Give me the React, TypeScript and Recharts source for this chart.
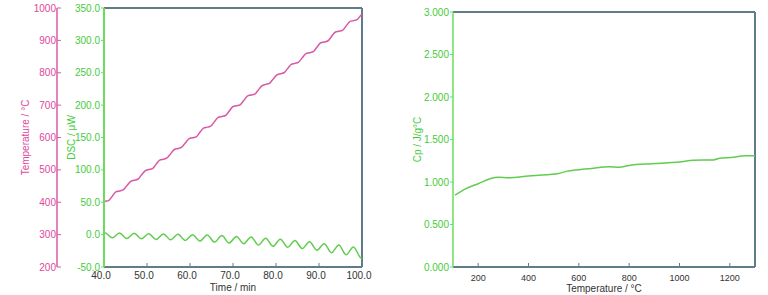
import { LineChart, Line, XAxis, YAxis, ReferenceLine } from "recharts";

const PINK = "#e0479a";
const PINK_LINE = "#d85aa6";
const GREEN = "#3fcc3a";
const GREEN_AXIS = "#6bdc5c";
const GREEN_LINE = "#62cc50";
const FRAME = "#5f7d88";
const TEXT = "#333";
const FONT = "'Liberation Sans', Arial, sans-serif";

// modulated DSC run: time (min) vs sample temperature (°C)
const tempTime = [
  40, 40.2, 41.05, 41.9, 42.75, 43.6, 44.45, 45.3, 46.15, 47.0, 47.85, 48.7, 49.55, 50.4, 51.25, 52.1,
  52.95, 53.8, 54.65, 55.5, 56.35, 57.2, 58.05, 58.9, 59.75, 60.6, 61.45, 62.3, 63.15, 64.0, 64.85,
  65.7, 66.55, 67.4, 68.25, 69.1, 69.95, 70.8, 71.65, 72.5, 73.35, 74.2, 75.05, 75.9, 76.75, 77.6,
  78.45, 79.3, 80.15, 81.0, 81.85, 82.7, 83.55, 84.4, 85.25, 86.1, 86.95, 87.8, 88.65, 89.5, 90.35,
  91.2, 92.05, 92.9, 93.75, 94.6, 95.45, 96.3, 97.15, 98.0, 98.85, 99.7, 100,
];
const temperature = [
  400, 402, 405, 418, 432, 435, 438, 451, 464, 468, 471, 484, 497, 501, 504, 517,
  530, 533, 537, 550, 563, 566, 570, 583, 596, 599, 602, 616, 629, 632, 635,
  649, 662, 665, 668, 681, 695, 698, 701, 714, 728, 731, 734, 747, 760, 764,
  767, 780, 793, 797, 800, 813, 826, 829, 833, 846, 859, 862, 865, 879, 892,
  895, 898, 912, 925, 928, 931, 944, 958, 961, 964, 977, 980,
];

// DSC signal (μW), peaks and troughs of the modulation
const dscTime = [
  40, 40.2, 41.9, 43.6, 45.3, 47.0, 48.7, 50.4, 52.1, 53.8, 55.5, 57.2, 58.9, 60.6, 62.3, 64.0,
  65.7, 67.4, 69.1, 70.8, 72.5, 74.2, 75.9, 77.6, 79.3, 81.0, 82.7, 84.4, 86.1, 87.8, 89.5, 91.2,
  92.9, 94.6, 96.3, 98.0, 99.7, 100,
];
const dsc = [
  1, 3, -5, 2.5, -6, 2, -6.5, 1.5, -7.5, 1, -8, 0.5, -9, 0, -10, -0.5,
  -11.5, -1.5, -13, -3, -14, -3.5, -16, -5.5, -18, -7, -19.5, -9, -21.5, -11, -24, -14,
  -28, -16, -31, -19, -36, -37,
];

// specific heat vs temperature
const cpTemp = [
  108, 150, 200, 250, 280, 320, 400, 470, 520, 550, 600, 650, 720, 760, 800, 890, 1000, 1055, 1135,
  1160, 1215, 1260, 1300,
];
const cp = [
  0.845, 0.92, 0.98, 1.04, 1.055, 1.05, 1.07, 1.085, 1.1, 1.125, 1.145, 1.16, 1.18, 1.175, 1.195,
  1.215, 1.235, 1.255, 1.26, 1.28, 1.29, 1.31, 1.31,
];

const timeTicks = [40, 50, 60, 70, 80, 90, 100];
const tempTicks = [200, 300, 400, 500, 600, 700, 800, 900, 1000];
const dscTicks = [-50, 0, 50, 100, 150, 200, 250, 300, 350];
const cpTicks = [0, 0.5, 1, 1.5, 2, 2.5, 3];
const cpTempTicks = [200, 400, 600, 800, 1000, 1200];

const tempData = tempTime.map((t, i) => ({ t, temp: temperature[i] }));
const dscData = dscTime.map((t, i) => ({ t, dsc: dsc[i] }));
const cpData = cpTemp.map((x, i) => ({ x, cp: cp[i] }));

function ModulatedChart() {
  return (
    <LineChart width={380} height={295} margin={{ top: 8, right: 18, bottom: 0, left: 8 }}>
      <XAxis
        dataKey="t"
        type="number"
        domain={[40, 100]}
        ticks={timeTicks}
        interval={0}
        tickFormatter={(v: number) => v.toFixed(1)}
        height={28}
        tickSize={-4}
        tickMargin={9}
        tick={{ fontSize: 10, fill: TEXT, dx: -3 }}
        axisLine={{ stroke: FRAME, strokeWidth: 2 }}
        tickLine={{ stroke: FRAME }}
        label={{ value: "Time / min", position: "insideBottom", offset: 4, fontSize: 10, fill: TEXT }}
      />
      <YAxis
        yAxisId="dsc"
        type="number"
        domain={[-50, 350]}
        ticks={dscTicks}
        interval={0}
        tickFormatter={(v: number) => v.toFixed(1)}
        width={47}
        tickSize={3}
        tickMargin={1}
        tick={{ fontSize: 10, fill: GREEN }}
        axisLine={{ stroke: GREEN_AXIS, strokeWidth: 2 }}
        tickLine={{ stroke: GREEN_AXIS }}
        label={{
          value: "DSC / μW",
          angle: -90,
          position: "insideLeft",
          offset: 14,
          style: { textAnchor: "middle", fill: GREEN, fontSize: 10 },
        }}
      />
      <YAxis
        yAxisId="temp"
        type="number"
        domain={[200, 1000]}
        ticks={tempTicks}
        interval={0}
        width={49}
        tickSize={-4}
        tickMargin={5}
        tick={{ fontSize: 10, fill: PINK }}
        axisLine={{ stroke: PINK_LINE, strokeWidth: 1.5 }}
        tickLine={{ stroke: PINK_LINE }}
        label={{
          value: "Temperature / °C",
          angle: -90,
          position: "insideLeft",
          offset: 17,
          style: { textAnchor: "middle", fill: PINK, fontSize: 10 },
        }}
      />
      <ReferenceLine yAxisId="dsc" y={350} stroke={FRAME} strokeWidth={2} />
      <ReferenceLine yAxisId="dsc" x={100} stroke={FRAME} strokeWidth={2} />
      <Line
        yAxisId="temp"
        data={tempData}
        dataKey="temp"
        type="monotone"
        stroke={PINK_LINE}
        strokeWidth={1.5}
        dot={false}
        isAnimationActive={false}
      />
      <Line
        yAxisId="dsc"
        data={dscData}
        dataKey="dsc"
        type="monotone"
        stroke={GREEN_LINE}
        strokeWidth={1.5}
        dot={false}
        isAnimationActive={false}
      />
    </LineChart>
  );
}

function CpChart() {
  return (
    <LineChart width={388} height={295} data={cpData} margin={{ top: 12, right: 13, bottom: 0, left: 0 }}>
      <XAxis
        dataKey="x"
        type="number"
        domain={[100, 1300]}
        ticks={cpTempTicks}
        interval={0}
        height={28}
        tickSize={-4}
        tickMargin={12}
        tick={{ fontSize: 9, fill: TEXT }}
        axisLine={{ stroke: FRAME, strokeWidth: 2 }}
        tickLine={{ stroke: FRAME }}
        label={{ value: "Temperature / °C", position: "insideBottom", offset: 3, fontSize: 10, fill: TEXT }}
      />
      <YAxis
        type="number"
        domain={[0, 3]}
        ticks={cpTicks}
        interval={0}
        tickFormatter={(v: number) => v.toFixed(3)}
        width={73}
        tickSize={3}
        tickMargin={1}
        tick={{ fontSize: 10, fill: GREEN }}
        axisLine={{ stroke: GREEN_AXIS, strokeWidth: 1.5 }}
        tickLine={{ stroke: GREEN_AXIS }}
        label={{
          value: "Cp / J/g°C",
          angle: -90,
          position: "insideLeft",
          offset: 37,
          style: { textAnchor: "middle", fill: GREEN, fontSize: 10 },
        }}
      />
      <ReferenceLine y={3} stroke={FRAME} strokeWidth={2} />
      <ReferenceLine x={1300} stroke={FRAME} strokeWidth={2} />
      <Line
        dataKey="cp"
        type="monotone"
        stroke={GREEN_LINE}
        strokeWidth={1.5}
        dot={false}
        isAnimationActive={false}
      />
    </LineChart>
  );
}

export default function App() {
  return (
    <div
      style={{
        position: "absolute",
        left: 0,
        top: 0,
        width: 768,
        height: 295,
        background: "#fff",
        fontFamily: FONT,
      }}
    >
      <div style={{ position: "absolute", left: 0, top: 0 }}>
        <ModulatedChart />
      </div>
      <div style={{ position: "absolute", left: 380, top: 0 }}>
        <CpChart />
      </div>
    </div>
  );
}
